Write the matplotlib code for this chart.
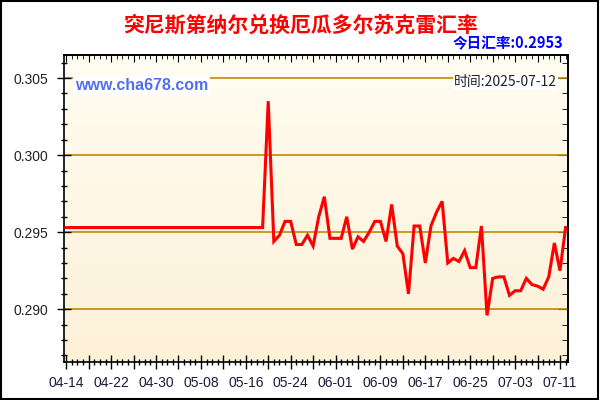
import numpy as np
import pandas as pd
import matplotlib
matplotlib.use('Agg')
import matplotlib.pyplot as plt
import matplotlib.dates as mdates
import matplotlib.ticker as mtick
from matplotlib.patches import Rectangle

plt.rcParams['font.family'] = ['Liberation Sans', 'Noto Sans CJK SC', 'DejaVu Sans']

title = '突尼斯第纳尔兑换厄瓜多尔苏克雷汇率'
today_label = '今日汇率:0.2953'
date_label = '时间:2025-07-12'
site = 'www.cha678.com'

start_day = '2025-04-14'
end_day = '2025-07-12'
rates = [
    0.2953, 0.2953, 0.2953, 0.2953, 0.2953, 0.2953, 0.2953, 0.2953, 0.2953, 0.2953,
    0.2953, 0.2953, 0.2953, 0.2953, 0.2953, 0.2953, 0.2953, 0.2953, 0.2953, 0.2953,
    0.2953, 0.2953, 0.2953, 0.2953, 0.2953, 0.2953, 0.2953, 0.2953, 0.2953, 0.2953,
    0.2953, 0.2953, 0.2953, 0.2953, 0.2953, 0.2953,
    0.3035, 0.2944, 0.2948, 0.2957, 0.2957, 0.2942, 0.2942, 0.2948, 0.2941, 0.2960,
    0.2973, 0.2946, 0.2946, 0.2946, 0.2960, 0.2939, 0.2947, 0.2944, 0.2950, 0.2957,
    0.2957, 0.2944, 0.2968, 0.2941, 0.2936, 0.2910, 0.2954, 0.2954, 0.2930, 0.2954,
    0.2963, 0.2970, 0.2930, 0.2933, 0.2931, 0.2938, 0.2927, 0.2927, 0.2954, 0.2896,
    0.2920, 0.2921, 0.2921, 0.2909, 0.2912, 0.2912, 0.2920, 0.2916, 0.2915, 0.2913,
    0.2921, 0.2943, 0.2925, 0.2953,
]
dates = pd.date_range(start_day, end_day, freq='D')
yticks = [0.290, 0.295, 0.300, 0.305]

fig = plt.figure(figsize=(6, 4), dpi=100)
fig.patch.set_facecolor('white')
ax = fig.add_axes([64 / 600, 1 - 362 / 400, 504 / 600, 307 / 400])

# cream gradient background
grad = np.linspace(0, 1, 256).reshape(-1, 1)
top_c = np.array([255, 253, 242]) / 255
bot_c = np.array([253, 241, 216]) / 255
img = top_c[None, None, :] * (1 - grad[:, :, None]) + bot_c[None, None, :] * grad[:, :, None]
ax.imshow(img, extent=[0, 1, 0, 1], transform=ax.transAxes, aspect='auto', zorder=0)

for y in yticks:
    ax.axhline(y, color='#c08a00', lw=1.2, zorder=1)

x0 = mdates.date2num(dates[0])
ax.plot(dates, rates, color='#ff0000', lw=2.2, zorder=3, solid_joinstyle='miter')

ax.set_xlim(x0 - 0.4, x0 + 89.43)
ax.set_ylim(0.286578, 0.306494)

ax.set_yticks(yticks)
ax.yaxis.set_major_formatter(mtick.FormatStrFormatter('%.3f'))
ax.yaxis.set_minor_locator(mtick.MultipleLocator(0.001))

major_x = [x0 + 4 * i for i in range(23)]
ax.set_xticks(major_x)
ax.set_xticklabels([mdates.num2date(v).strftime('%m-%d') if i % 2 == 0 else ''
                    for i, v in enumerate(major_x)])
ax.xaxis.set_minor_locator(mtick.MultipleLocator(1))

ax.tick_params(axis='both', which='major', direction='inout', length=10, width=1,
               labelsize=10)
ax.tick_params(axis='both', which='minor', direction='inout', length=5, width=1)
ax.tick_params(axis='y', labelcolor='#222222', pad=6)
ax.tick_params(axis='x', labelcolor='#1a1a40', pad=5)

# inward ticks on top and right
top = ax.secondary_xaxis('top')
top.set_xticks(major_x)
top.xaxis.set_minor_locator(mtick.MultipleLocator(1))
top.tick_params(which='major', direction='in', length=5, labeltop=False)
top.tick_params(which='minor', direction='in', length=3)
right = ax.secondary_yaxis('right')
right.set_yticks(yticks)
right.yaxis.set_minor_locator(mtick.MultipleLocator(0.001))
right.tick_params(which='major', direction='in', length=7, labelright=False)
right.tick_params(which='minor', direction='in', length=4)

for sp in list(ax.spines.values()) + [top.spines['top'], right.spines['right']]:
    sp.set_linewidth(1.2)
    sp.set_color('black')

ax.text(0.022, 0.902, site, transform=ax.transAxes, fontsize=11.5, color='#5070f0',
        fontweight='bold', va='center', ha='left', zorder=4,
        bbox=dict(facecolor='white', edgecolor='none', pad=1.5))
ax.text(0.978, 0.912, date_label, transform=ax.transAxes, fontsize=10, color='#222222',
        va='center', ha='right', zorder=4,
        family=['Noto Sans CJK SC', 'DejaVu Sans'],
        bbox=dict(facecolor='white', edgecolor='none', pad=0.5))

fig.text(0.5, 1 - 25 / 400, title, ha='center', va='center', fontsize=15,
         fontweight='bold', color='#ff0000', family=['Noto Sans CJK SC', 'DejaVu Sans'])
fig.text(563 / 600, 1 - 43 / 400, today_label, ha='right', va='center', fontsize=10.5,
         fontweight='bold', color='#0000ff', family=['Noto Sans CJK SC', 'DejaVu Sans'])

fig.patches.append(Rectangle((0.002, 0.003), 0.995, 0.994, transform=fig.transFigure,
                             fill=False, edgecolor='black', lw=1.5))

fig.savefig('out.png', dpi=100)
